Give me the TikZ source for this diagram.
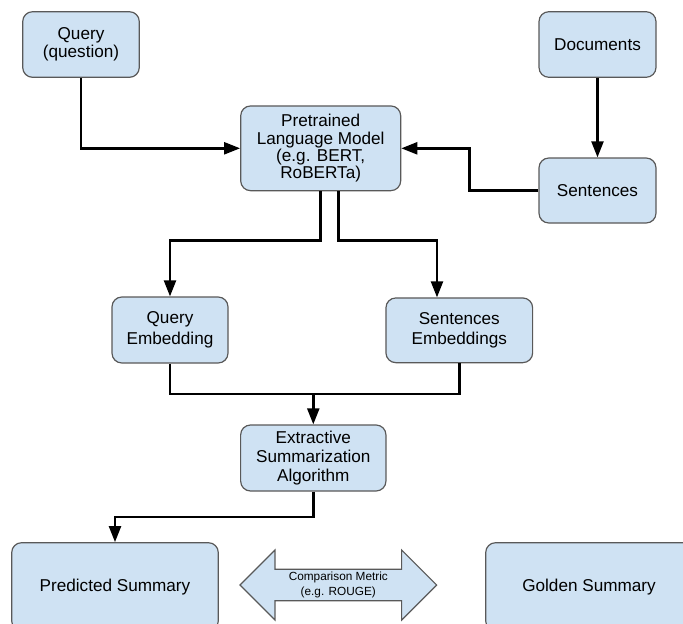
\documentclass[tikz,border=0pt]{standalone}
\usepackage{fontspec}
\setmainfont{Liberation Sans}
\usepackage{tikz}
\usetikzlibrary{shapes.arrows, arrows.meta}
\definecolor{boxfill}{HTML}{CFE2F3}
\definecolor{boxline}{HTML}{595959}

\begin{document}
\begin{tikzpicture}[
    box/.style={draw=boxline, fill=boxfill, line width=0.85pt, rounded corners=7pt, align=center, inner sep=0pt, font=\fontsize{12.2}{14.4}\selectfont},
    link/.style={black, line width=1.75pt, -{Triangle[length=11.4pt, width=8.5pt]}}
  ]
          \useasboundingbox (0, 0) rectangle (17.075cm, -15.575cm);
          \node[box, minimum width=2.915cm, minimum height=1.64cm, font=\fontsize{12.2}{12.8}\selectfont] at (2.025cm, -1.1125cm) (query) {Query\\(question)};
          \node[box, minimum width=2.925cm, minimum height=1.64cm] at (14.9375cm, -1.1125cm) (docs) {Documents};
          \node[box, minimum width=4cm, minimum height=2.1175cm, font=\fontsize{12.2}{12.4}\selectfont] at (8.0175cm, -3.7075cm) (plm) {Pretrained\\Language Model\\(e.g. BERT,\\RoBERTa)};
          \node[box, minimum width=2.925cm, minimum height=1.625cm] at (14.9375cm, -4.7625cm) (sent) {Sentences};
          \node[box, minimum width=2.9cm, minimum height=1.65cm, font=\fontsize{12.2}{14.9}\selectfont] at (4.25cm, -8.25cm) (qemb) {Query\\Embedding};
          \node[box, minimum width=3.6675cm, minimum height=1.6175cm, font=\fontsize{12.2}{14.9}\selectfont] at (11.4825cm, -8.2575cm) (semb) {Sentences\\Embeddings};
          \node[box, minimum width=3.6325cm, minimum height=1.65cm, font=\fontsize{12.2}{13.5}\selectfont] at (7.8325cm, -11.45cm) (esa) {Extractive\\Summarization\\Algorithm};
          \node[box, minimum width=5.165cm, minimum height=2.2cm] at (2.875cm, -14.6675cm) (pred) {Predicted Summary};
          \node[box, minimum width=5.165cm, minimum height=2.2cm] at (14.725cm, -14.6675cm) (gold) {Golden Summary};
          \node[draw=boxline, fill=boxfill, line width=0.85pt, double arrow, double arrow head extend=0.4175cm, double arrow tip angle=90, minimum width=1.75cm, minimum height=4.9175cm, inner sep=0pt, align=center, font=\fontsize{8.4}{10.6}\selectfont] at (8.4575cm, -14.625cm) (metric) {Comparison Metric\\(e.g. ROUGE)};
          \draw[link] (query.south) |- (plm.west);
          \draw[link] (docs.south) -- (sent.north);
          \draw[link] (sent.west) -- ++(-1.725cm, 0) |- (plm.east);
          \draw[link] (plm.south) -- ++(0, -1.23cm) -| (qemb.north);
          \draw[link] ([xshift=0.45cm]plm.south) -- ++(0, -1.23cm) -| ([xshift=-0.5575cm]semb.north);
          \coordinate (merge) at (esa.north |- 0, -9.85cm);
          \draw[link, -] (qemb.south) |- (merge) -| (semb.south);
          \draw[link] (merge) -- (esa.north);
          \draw[link] (esa.south) -- ++(0, -0.64cm) -| (pred.north);
        \end{tikzpicture}
\end{document}
